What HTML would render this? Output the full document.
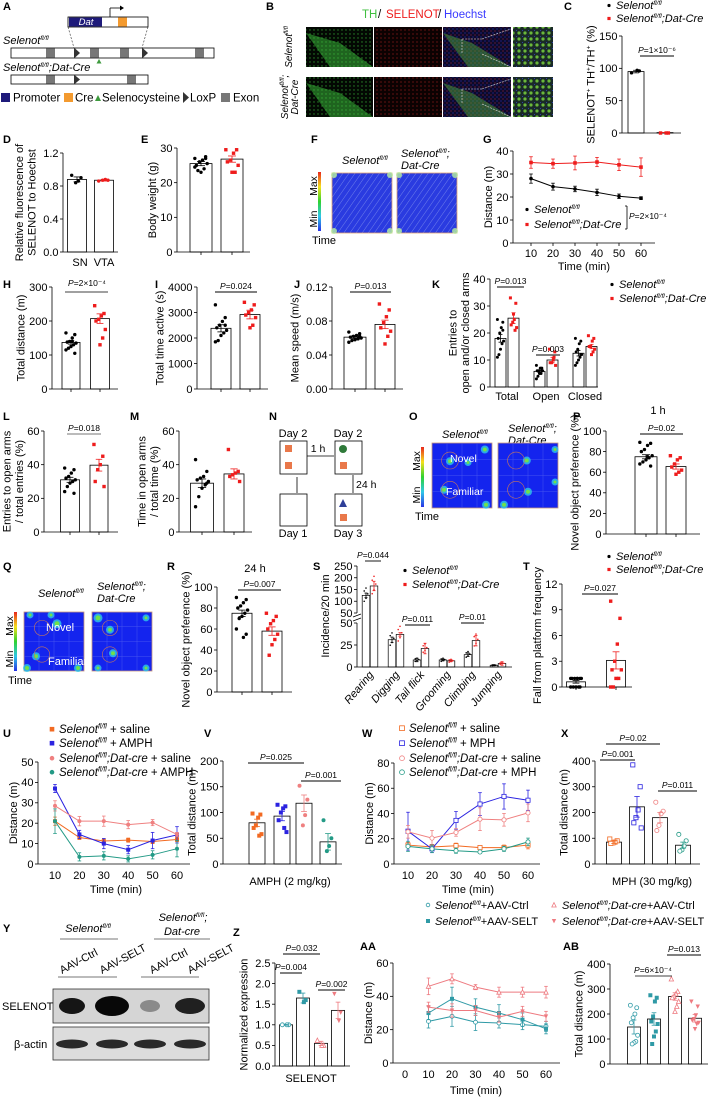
<!DOCTYPE html>
<html><head><meta charset="utf-8"><style>
html,body{margin:0;padding:0;background:#fff;}
svg{display:block;font-family:"Liberation Sans",Arial,sans-serif;}
</style></head><body>
<svg id="fig" width="711" height="1099" viewBox="0 0 711 1099" xmlns="http://www.w3.org/2000/svg">
<defs>
<linearGradient id="cbar" x1="0" y1="0" x2="0" y2="1"><stop offset="0" stop-color="#e8261c"/><stop offset="0.25" stop-color="#f5e11d"/><stop offset="0.5" stop-color="#2fd22f"/><stop offset="0.75" stop-color="#2fc8e8"/><stop offset="1" stop-color="#2833e6"/></linearGradient>
<pattern id="trk" width="5" height="5" patternUnits="userSpaceOnUse" patternTransform="rotate(35)"><rect width="5" height="5" fill="#2a3be0"/><line x1="0" y1="0" x2="0" y2="5" stroke="#8090ee" stroke-width="0.8"/></pattern>
<pattern id="grn" width="4" height="4" patternUnits="userSpaceOnUse"><rect width="4" height="4" fill="#030803"/><circle cx="2" cy="2" r="0.7" fill="#2a8a2a"/></pattern>
<pattern id="red" width="4" height="4" patternUnits="userSpaceOnUse"><rect width="4" height="4" fill="#0c0202"/><circle cx="1" cy="2" r="0.6" fill="#a01c1c"/></pattern>
<pattern id="mrg" width="4" height="4" patternUnits="userSpaceOnUse"><rect width="4" height="4" fill="#0c0a2a"/><circle cx="1" cy="1" r="0.6" fill="#2a2ab0"/><circle cx="3" cy="3" r="0.6" fill="#902040"/></pattern>
<pattern id="zm" width="6" height="6" patternUnits="userSpaceOnUse"><rect width="6" height="6" fill="#1a2a28"/><circle cx="3" cy="3" r="1.6" fill="#6ab83a"/><circle cx="0" cy="0" r="1" fill="#3344cc"/></pattern>
</defs>
</svg>
<script>
// ---------- DATA ----------
const cVals=[95,0.6]; const cErr=[2,0]; const cDots0=[93,96,97]; const cDots1=[0,0,0];
const dVals=[0.88,0.87]; const dErr=[0.03,0.01]; const dDots0=[0.93,0.9,0.86,0.84]; const dDots1=[0.86,0.87,0.88,0.87];
const eVals=[25.5,26.8]; const eErr=[0.6,0.9]; const eDots0=[27,27.5,26.5,26,25,25.5,24,23,23.5,24.5,27]; const eDots1=[29.5,29.5,28.5,26.5,26,25,23,23];
const gTime=[10,20,30,40,50,60]; const gCtrl=[28,24.5,23.5,22,20.3,19.5]; const gCtrlErr=[2,1.5,1.2,1.4,1,0.6]; const gCko=[35,34.5,34.8,35.2,34,33]; const gCkoErr=[2.5,2,3,2,2.5,4];
const hVals=[137,207]; const hErr=[5,14]; const hDots0=[165,160,150,140,138,135,130,125,120,115,105,140]; const hDots1=[245,222,215,205,200,175,150,130];
const iVals=[2380,2920]; const iErr=[140,170]; const iDots0=[3300,2800,2650,2500,2400,2300,2200,2100,1900,1850,2500]; const iDots1=[3400,3300,3100,3000,2900,2800,2500,2400];
const jVals=[0.061,0.076]; const jErr=[0.0015,0.005]; const jDots0=[0.067,0.065,0.063,0.062,0.061,0.06,0.059,0.058,0.057,0.055,0.062]; const jDots1=[0.1,0.093,0.085,0.078,0.072,0.068,0.062,0.053];
const kCats=['Total','Open','Closed']; const kCtrl=[18,5.8,12.5]; const kCtrlErr=[1.4,0.4,1]; const kCko=[25.5,10,15]; const kCkoErr=[2,1,0.8];
const kDotsCtrl=[[25,24,22,20,18,17,16,14,12,11,21],[8,7,7,6,6,6,5,5,4,3,6],[18,17,16,14,13,12,11,10,9,8,12]];
const kDotsCko=[[33,31,25,24,23,22,21,27],[14,13,10,9,9,8,11],[19,18,17,15,15,14,13,12]];
const lVals=[31,39.7]; const lErr=[1.5,3.5]; const lDots0=[38,37,35,33,32,31,30,29,27,24,23]; const lDots1=[52,45,40,37,30,27];
const mVals=[29,34.5]; const mErr=[2.5,3]; const mDots0=[43,36,33,32,31,30,28,26,21,15,29]; const mDots1=[49,36,35,34,33,30];
const pVals=[75,65.5]; const pErr=[2,2.5]; const pDots0=[89,88,86,82,80,76,74,72,70,68,66,75]; const pDots1=[76,74,72,68,65,62,60,58];
const rVals=[75,58]; const rErr=[3,4]; const rDots0=[90,88,85,82,80,78,75,72,70,60,55,52]; const rDots1=[75,72,68,65,60,55,50,45,35];
const sCats=['Rearing','Digging','Tail flick','Grooming','Climbing','Jumping'];
const sCtrl=[125,31,8,8,14,2]; const sCtrlErr=[10,3,2,1,2,0.5]; const sCko=[165,37,21,7,30,4]; const sCkoErr=[20,2,6,1,6,2];
const tVals=[0.6,3.1]; const tErr=[0.15,1]; const tDots0=[1,1,1,1,1,1,0,0,0,0,0,1]; const tDots1=[10,8,5,3,2,2,1,1,0,0];
const uTime=[10,20,30,40,50,60];
const uSal=[21,13,11.3,11.7,11,12]; const uSalErr=[2,1,1,1,1,1];
const uAmph=[37,14.5,10,7,11.5,14.3]; const uAmphErr=[2,2,2.5,2,4,4];
const uCreSal=[28.5,21,21,19.3,20.3,14.5]; const uCreSalErr=[2.5,2.3,2.5,2,1.5,1];
const uCreAmph=[21,3.5,4,2.5,4.5,7.5]; const uCreAmphErr=[6,2,2,1.5,2,4];
const vVals=[80,93,118,43]; const vErr=[7,9,16,16]; const vDots=[[98,96,90,75,70,58,55],[115,112,108,100,85,62,70],[152,125,95,75],[85,50,35,25]];
const wSal=[15,13.5,14.5,13,13,15]; const wSalErr=[2,2,2,1.5,2,3];
const wMph=[26,12,34.5,47.5,53.5,50.5]; const wMphErr=[15,3,7,9,10,8];
const wCreSal=[25.5,20.5,25,35.5,35,40.5]; const wCreSalErr=[5,6,3,9,5,7];
const wCreMph=[14,12,10.5,9.5,12,17.5]; const wCreMphErr=[4,3,2,1,2,3];
const xVals=[85,222,180,73]; const xErr=[5,40,20,12]; const xDots=[[97,90,85,82,80],[385,300,210,180,160,140],[240,205,195,150,130],[115,90,70,55,50]];
const zVals=[1.0,1.65,0.55,1.35]; const zErr=[0.01,0.12,0.05,0.2]; const zDots=[[1,1,1],[1.8,1.6,1.55],[0.62,0.5,0.5],[1.75,1.3,1.1]];
const aaTime=[10,20,30,40,50,60];
const aaCtrl=[25,28,24.5,24,23,22]; const aaCtrlErr=[4,6,5,3,3,3];
const aaSelt=[30,38.5,33.5,30,26,20.5]; const aaSeltErr=[4,7,5,5,4,3];
const aaCreCtrl=[46,50.5,45.5,42.5,42.5,42.5]; const aaCreCtrlErr=[5,3,1.5,3,3,3.5];
const aaCreSelt=[33.5,31.5,31.5,27.5,31,28]; const aaCreSeltErr=[3,4,3,3,3,3];
const abVals=[148,180,270,183]; const abErr=[28,25,15,15];
const abDots=[[235,225,200,185,165,115,90,85,80],[275,265,250,190,170,160,130,110,80],[340,290,280,270,265,250,230,210],[250,230,195,180,175,165,160,140]];

// ---------- HELPERS ----------
const NS='http://www.w3.org/2000/svg';
const svg=document.getElementById('fig');
const RED='#ee1c1c', ORG='#f26a22', BLU='#2b23e0', PNK='#ef8080', TEA='#239a86', AT='#2f9aa6', AP='#ee7a80';
const FS=11;
function mk(tag,attrs,parent){const e=document.createElementNS(NS,tag);for(const k in attrs)e.setAttribute(k,attrs[k]);(parent||svg).appendChild(e);return e;}
function T(x,y,s,nm,o){o=o||{};const t=mk('text',{x:x,y:y,'font-size':o.fs||FS,'text-anchor':o.a||'start',fill:o.fill||'#000'});
  if(o.it)t.setAttribute('font-style','italic');
  if(o.b)t.setAttribute('font-weight','bold');
  if(o.rot!==undefined)t.setAttribute('transform','rotate('+o.rot+' '+x+' '+y+')');
  t.textContent=s;
  
  
  return t;}
function R(x,y,parts,nm,o){o=o||{};const fs=o.fs||FS;const t=mk('text',{x:x,y:y,'font-size':fs,'text-anchor':o.a||'start',fill:o.fill||'#000'});
  if(o.rot!==undefined)t.setAttribute('transform','rotate('+o.rot+' '+x+' '+y+')');
  
  
  let sup=false;
  parts.forEach(p=>{const s=mk('tspan',{},t);
    
    
    if(p[1].indexOf('i')>=0)s.setAttribute('font-style','italic');
    if(p[1].indexOf('s')>=0){s.setAttribute('font-size',fs*0.6);if(!sup)s.setAttribute('dy',-fs*0.38);sup=true;}
    else if(sup){s.setAttribute('dy',fs*0.38);sup=false;}
    s.textContent=p[0];});
  return t;}
function SEL(rest){return [['Selenot','i'],['fl/fl','is']].concat(rest||[]);}
function L(x1,y1,x2,y2,nm,c,w,dash){const l=mk('line',{x1:x1,y1:y1,x2:x2,y2:y2,stroke:c||'#000','stroke-width':w||0.8});
  if(dash)l.setAttribute('stroke-dasharray',dash);
  
  
  return l;}
function panel(s,x,y){T(x,y,s,'panel-label-'+s.toLowerCase(),{b:true,fs:11});}
function yAxis(ax,y0,yTop,ticks,labels,title,nm,tdx){
  const vmin=ticks[0],vmax=ticks[ticks.length-1];
  const sc=v=>y0-(v-vmin)/(vmax-vmin)*(y0-yTop);
  L(ax,y0,ax,yTop,nm+'-y-axis');
  let mx=0;
  ticks.forEach((v,i)=>{L(ax-3,sc(v),ax,sc(v),nm+'-y-tick');
    T(ax-4.5,sc(v)+3.8,labels[i],nm+'-y-tick-label',{a:'end',fs:11});
    mx=Math.max(mx,labels[i].length);});
  const tx=ax-9-mx*6.1-(tdx||0);
  const cy=(y0+yTop)/2;
  title.forEach((line,i)=>{const xx=tx-(title.length-1-i)*12.5;
    if(typeof line==='string')T(xx,cy,line,nm+'-y-axis-title',{a:'middle',rot:-90,fs:11});
    else R(xx,cy,line,nm+'-y-axis-title',{a:'middle',rot:-90,fs:11});});
  return sc;}
function xBase(x1,x2,y0,tickXs,nm){L(x1,y0,x2,y0,nm+'-x-axis');tickXs.forEach(x=>L(x,y0,x,y0+3,nm+'-x-tick'));}
function marker(x,y,shape,col,open,sz,nm){let e;sz=sz||1.7;
  if(shape==='s')e=mk('rect',{x:x-sz,y:y-sz,width:2*sz,height:2*sz});
  else if(shape==='t')e=mk('polygon',{points:(x)+','+(y-sz*1.2)+' '+(x-sz*1.1)+','+(y+sz)+' '+(x+sz*1.1)+','+(y+sz)});
  else if(shape==='v')e=mk('polygon',{points:(x)+','+(y+sz*1.2)+' '+(x-sz*1.1)+','+(y-sz)+' '+(x+sz*1.1)+','+(y-sz)});
  else e=mk('circle',{cx:x,cy:y,r:sz});
  if(open){e.setAttribute('fill','#fff');e.setAttribute('stroke',col);e.setAttribute('stroke-width',0.8);}
  else e.setAttribute('fill',col);
  
  
  return e;}
function errBar(x,y1,y2,cw,col,nm){L(x,y1,x,y2,nm,col,0.8);L(x-cw,y1,x+cw,y1,nm+'-cap',col,0.8);L(x-cw,y2,x+cw,y2,nm+'-cap',col,0.8);}
function bar(sc,c,w,v,e,dots,col,shape,open,nm,sz){
  const y0=sc(0);
  const r=mk('rect',{x:c-w/2,y:sc(v),width:w,height:y0-sc(v),fill:'none',stroke:'#000','stroke-width':0.8});
  
  
  (dots||[]).forEach((d,j)=>{const off=(((j*7)%9)-4)/4*w*0.28;marker(c+off,sc(d),shape,col,open,sz,nm+'-dot');});
  errBar(c,sc(v+e),sc(v-e),w*0.18,col,nm+'-error');}
function series(xs,ys,ts,vals,errs,col,shape,open,nm,sz){
  const d=ts.map((t,i)=>(i?'L':'M')+xs(t)+' '+ys(vals[i])).join(' ');
  const p=mk('path',{d:d,fill:'none',stroke:col,'stroke-width':1});
  
  
  ts.forEach((t,i)=>{errBar(xs(t),ys(vals[i]+errs[i]),ys(Math.max(0,vals[i]-errs[i])),1.8,col,nm+'-error');
    marker(xs(t),ys(vals[i]),shape,col,open,sz||2,nm+'-point');});}
function pval(x1,x2,y,txt,nm,col){L(x1,y,x2,y,nm+'-line',col||'#000',0.9);
  R((x1+x2)/2,y-3,[['P','i'],[txt,'']],nm,{a:'middle',fs:8.5});}
function heat(x,y,w,h,nm,spots){const g=mk('g',{});
  
  
  mk('rect',{x:x,y:y,width:w,height:h,fill:'#1424ee',stroke:'#c9967a','stroke-width':0.8},g);
  for(let i=1;i<4;i++){mk('line',{x1:x+w*i/4,y1:y,x2:x+w*i/4,y2:y+h,stroke:'#5060f0','stroke-width':0.4},g);mk('line',{x1:x,y1:y+h*i/4,x2:x+w,y2:y+h*i/4,stroke:'#5060f0','stroke-width':0.4},g);}
  spots.forEach(s=>{mk('circle',{cx:x+s[0]*w,cy:y+s[1]*h,r:s[2]+2,fill:'#30c8e8',opacity:0.8},g);mk('circle',{cx:x+s[0]*w,cy:y+s[1]*h,r:s[2],fill:'#6ee24a'},g);});
  mk('circle',{cx:x+w*0.3,cy:y+h*0.27,r:h*0.13,fill:'none',stroke:'#c8785a','stroke-width':0.6},g);
  mk('circle',{cx:x+w*0.3,cy:y+h*0.72,r:h*0.13,fill:'none',stroke:'#c8785a','stroke-width':0.6},g);
  return g;}
function cbar(x,y,h,nm){const r=mk('rect',{x:x,y:y,width:3,height:h,fill:'url(#cbar)'});
  
  
  T(x-1,y+14,'Max',nm+'-max',{rot:-90,a:'middle',fs:10.5});
  T(x-1,y+h-12,'Min',nm+'-min',{rot:-90,a:'middle',fs:10.5});
  T(x-6,y+h+13,'Time',nm+'-time',{fs:11});}
function rectN(x,y,w,h,fill,nm,stroke){const r=mk('rect',{x:x,y:y,width:w,height:h,fill:fill});
  if(stroke){r.setAttribute('stroke',stroke);r.setAttribute('stroke-width',0.8);}
  
  
  return r;}
function legend2(x,y1,y2,nm){marker(x,y1-3.5,'c','#000',false,1.6,nm+'-marker-ctrl');R(x+7,y1,SEL(),nm+'-ctrl',{fs:11});
  marker(x,y2-3.5,'s',RED,false,1.6,nm+'-marker-cko');R(x+7,y2,SEL([[';Dat-Cre','i']]),nm+'-cko',{fs:11});}

// ---------- A ----------
panel('A',3,10);
rectN(68,17,80,10,'#fff','dat-construct','#000');
rectN(69,17.5,33,9,'#1e1a7a','dat-promoter');
T(86,25,'Dat','dat-label',{it:true,a:'middle',fill:'#fff',fs:9.5});
rectN(118,17.5,9,9,'#f39a2f','cre-box');
L(110,17,110,8,'tss-arrow');L(110,8,120,8,'tss-arrow');
mk('polygon',{points:'120,5.5 124,8 120,10.5',fill:'#000'});
R(3,44,SEL(),'selenot-flfl-label',{fs:11});
rectN(11,48,203,10,'#fff','selenot-flfl-allele','#000');
[46,90,120,195].forEach(x=>rectN(x,48.5,9,9,'#777','exon'));
[74,142].forEach(x=>mk('polygon',{points:x+',47.5 '+(x+6)+',53 '+x+',58.5',fill:'#333'}));
L(68,27,74,48,'dashed-link','#333',0.6,'2,1.5');L(148,27,142,48,'dashed-link','#333',0.6,'2,1.5');
mk('polygon',{points:'99,59 101.5,63.5 96.5,63.5',fill:'#3e9a3e'});
R(3,71,SEL([[';Dat-Cre','i']]),'selenot-cko-label',{fs:11});
rectN(11,75,137,9,'#fff','selenot-cko-allele','#000');
[46,127].forEach(x=>rectN(x,75.5,9,8,'#777','exon'));
mk('polygon',{points:'74,74.5 80,79.5 74,84.5',fill:'#333'});
rectN(1,93,9,9,'#1e1a7a','legend-promoter');T(13,101.5,'Promoter','legend-promoter-text',{fs:11.5});
rectN(64,93,9,9,'#f39a2f','legend-cre');T(75,101.5,'Cre','legend-cre-text',{fs:11.5});
mk('polygon',{points:'98,95 101,101 95,101',fill:'#3e9a3e'});T(102,101.5,'Selenocysteine','legend-sec-text',{fs:11.5});
mk('polygon',{points:'183,92 189,97.5 183,103',fill:'#333'});T(190,101.5,'LoxP','legend-loxp-text',{fs:11.5});
rectN(221,93,9,9,'#777','legend-exon');T(233,101.5,'Exon','legend-exon-text',{fs:11.5});

// ---------- B ----------
panel('B',266,10);
T(362,18,'TH','b-title-th',{fs:11.5,fill:'#3fbf3f'});
T(378,18,'/','b-title-sep1',{fs:11.5});
T(386,18,'SELENOT','b-title-selenot',{fs:11.5,fill:RED});
T(438,18,'/','b-title-sep2',{fs:11.5});
T(444,18,'Hoechst','b-title-hoechst',{fs:11.5,fill:'#3a3aff'});
[27,77].forEach((y,ri)=>{
  rectN(306,y,67,40,'url(#grn)','th-image');
  mk('polygon',{points:'306,'+(y+6)+' 340,'+(y+16)+' 373,'+(y+40)+' 330,'+(y+40),fill:'#3cc03c',opacity:0.5});
  rectN(374,y,68,40,'url(#red)','selenot-image');
  rectN(443,y,68,40,'url(#mrg)','merge-image');
  mk('polygon',{points:'443,'+(y+6)+' 472,'+(y+16)+' 511,'+(y+40)+' 468,'+(y+40),fill:'#4aa03a',opacity:0.5});
  rectN(513,y,40,40,'url(#zm)','zoom-image');
  L(462,y+12,482,y+12,'inset-box','#ddd',0.6,'2,1');L(462,y+12,462,y+27,'inset-box','#ddd',0.6,'2,1');L(482,y+12,511,y+2,'inset-box','#ddd',0.6,'2,1');L(482,y+27,511,y+40,'inset-box','#ddd',0.6,'2,1');
});
R(292,47,SEL(),'b-row1-label',{rot:-90,a:'middle',fs:10});
R(288,97,[['Selenot','i'],['fl/fl','is'],[';','i']],'b-row2-label',{rot:-90,a:'middle',fs:10});
T(298,97,'Dat-Cre','b-row2-label2',{rot:-90,a:'middle',fs:10,it:true});

// ---------- C ----------
panel('C',564,10);
legend2(609,9,22,'c-legend');
const cY=yAxis(622,133,36,[0,50,100,150],['0','50','100','150'],[[['SELENOT',''],['+','s'],[' TH',''],['+','s'],['/TH',''],['+','s'],[' (%)','']]],'c');
xBase(622,681,133,[]);
bar(cY,636,16,cVals[0],cErr[0],cDots0,'#000','c',false,'c-bar-ctrl');
bar(cY,665,16,cVals[1],cErr[1],cDots1,RED,'s',false,'c-bar-cko');
pval(640,674,56,'=1×10⁻⁶','c-pvalue');

// ---------- D ----------
panel('D',3,143);
const dY=yAxis(63,252,153,[0,0.4,0.8,1.2],['0.0','0.4','0.8','1.2'],['Relative fluorescence of','SELENOT to Hoechst'],'d');
xBase(63,118,252,[]);
bar(dY,77,19,dVals[0],dErr[0],dDots0,'#000','c',false,'d-bar-sn');
bar(dY,104,19,dVals[1],dErr[1],dDots1,RED,'c',false,'d-bar-vta');
T(80,266,'SN','d-x-sn',{a:'middle'});T(104,266,'VTA','d-x-vta',{a:'middle'});

// ---------- E ----------
panel('E',141,143);
const eY=yAxis(177,252,148,[0,10,20,30],['0','10','20','30'],['Body weight (g)'],'e');
xBase(177,250,252,[201,232]);
bar(eY,201,22,eVals[0],eErr[0],eDots0,'#000','c',false,'e-bar-ctrl');
bar(eY,232,22,eVals[1],eErr[1],eDots1,RED,'s',false,'e-bar-cko');

// ---------- F ----------
panel('F',311,143);
cbar(318,172,59,'f-colorbar');
R(342,164,SEL(),'f-label-ctrl',{fs:11});
R(401,157,SEL([[';','i']]),'f-label-cko',{fs:11});T(401,169,'Dat-Cre','f-label-cko2',{it:true,fs:11});
[[332,'f-heatmap-ctrl'],[397,'f-heatmap-cko']].forEach(h=>{const r=rectN(h[0],173,60,60,'url(#trk)',h[1],'#e0a070');
  [[2,2],[58,2],[2,58],[58,58]].forEach(p=>mk('circle',{cx:h[0]+p[0],cy:173+p[1],r:3,fill:'#b8f0a0',opacity:0.8}));});

// ---------- G ----------
panel('G',483,143);
const gY=yAxis(513,243,151,[0,10,20,30,40],['0','10','20','30','40'],['Distance (m)'],'g');
const gX=t=>531+(t-10)/50*110;
xBase(513,655,243,gTime.map(gX));
gTime.forEach(t=>T(gX(t),257,String(t),'g-x-tick-label',{a:'middle'}));
T(584,270,'Time (min)','g-x-axis-title',{a:'middle'});
series(gX,gY,gTime,gCtrl,gCtrlErr,'#000','c',false,'g-series-ctrl',1.8);
series(gX,gY,gTime,gCko,gCkoErr,RED,'s',false,'g-series-cko',1.8);
legend2(527,213,228,'g-legend');
L(625,206,627,206,'g-bracket');L(627,206,627,229,'g-bracket');L(625,229,627,229,'g-bracket');
R(629,219,[['P','i'],['=2×10⁻⁴','']],'g-pvalue',{fs:8.5});

// ---------- H ----------
panel('H',3,288);
const hY=yAxis(52,389,287,[0,100,200,300],['0','100','200','300'],['Total distance (m)'],'h');
xBase(52,118,389,[71,100]);
bar(hY,71,18,hVals[0],hErr[0],hDots0,'#000','c',false,'h-bar-ctrl');
bar(hY,100,19,hVals[1],hErr[1],hDots1,RED,'s',false,'h-bar-cko');
R(87,286,[['P','i'],['=2×10⁻⁴','']],'h-pvalue',{a:'middle',fs:8.5});L(65,292,108,292,'h-pvalue-line');

// ---------- I ----------
panel('I',155,288);
const iY=yAxis(197,389,287,[0,1000,2000,3000,4000],['0','1000','2000','3000','4000'],['Total time active (s)'],'i');
xBase(197,268,389,[221,250]);
bar(iY,221,20,iVals[0],iErr[0],iDots0,'#000','c',false,'i-bar-ctrl');
bar(iY,250,20,iVals[1],iErr[1],iDots1,RED,'s',false,'i-bar-cko');
pval(215,257,292,'=0.024','i-pvalue');

// ---------- J ----------
panel('J',294,288);
const jY=yAxis(332,389,287,[0,0.04,0.08,0.12],['0.00','0.04','0.08','0.12'],['Mean speed (m/s)'],'j');
xBase(332,403,389,[355,385]);
bar(jY,355,22,jVals[0],jErr[0],jDots0,'#000','c',false,'j-bar-ctrl');
bar(jY,385,20,jVals[1],jErr[1],jDots1,RED,'s',false,'j-bar-cko');
pval(350,391,292,'=0.013','j-pvalue');

// ---------- K ----------
panel('K',432,288);
const kY=yAxis(490,387,279,[0,10,20,30,40],['0','10','20','30','40'],['Entries to','open and/or closed arms'],'k');
xBase(490,598,387,[]);
const kCenters=[507,546,585];
kCats.forEach((c,i)=>{bar(kY,kCenters[i]-6.5,11,kCtrl[i],kCtrlErr[i],kDotsCtrl[i],'#000','c',false,'k-bar-ctrl-'+c.toLowerCase(),1.5);
  bar(kY,kCenters[i]+6.5,11,kCko[i],kCkoErr[i],kDotsCko[i],RED,'s',false,'k-bar-cko-'+c.toLowerCase(),1.5);
  T(kCenters[i],400,c,'k-x-label',{a:'middle'});});
pval(497,524,287,'=0.013','k-pvalue-total');
pval(536,560,355,'=0.003','k-pvalue-open');
legend2(612,288,302,'k-legend');

// ---------- L ----------
panel('L',3,420);
const lY=yAxis(44,532,431,[0,20,40,60],['0','20','40','60'],['Entries to open arms','/ total entries (%)'],'l');
xBase(44,118,532,[70,99]);
bar(lY,70,19,lVals[0],lErr[0],lDots0,'#000','c',false,'l-bar-ctrl');
bar(lY,99,18,lVals[1],lErr[1],lDots1,RED,'s',false,'l-bar-cko');
pval(67,101,434,'=0.018','l-pvalue','#777');

// ---------- M ----------
panel('M',130,420);
const mY=yAxis(179,532,431,[0,20,40,60],['0','20','40','60'],['Time in open arms','/ total time (%)'],'m');
xBase(179,252,532,[202,234]);
bar(mY,202,23,mVals[0],mErr[0],mDots0,'#000','c',false,'m-bar-ctrl');
bar(mY,234,20,mVals[1],mErr[1],mDots1,RED,'s',false,'m-bar-cko');

// ---------- N ----------
panel('N',269,420);
T(293,437,'Day 2','n-day2a',{a:'middle'});T(348,437,'Day 2','n-day2b',{a:'middle'});
rectN(280,441,27,33,'#fff','n-box-day2a','#000');rectN(335,441,27,33,'#fff','n-box-day2b','#000');
rectN(280,494,27,32,'#fff','n-box-day1','#000');rectN(335,494,27,32,'#fff','n-box-day3','#000');
rectN(285,445,7,7,'#e9784a','n-object');rectN(285,462,7,7,'#e9784a','n-object');
mk('circle',{cx:343,cy:449,r:4,fill:'#2f7a3a'});rectN(340,462,7,7,'#e9784a','n-object');
mk('polygon',{points:'343,499 347,507 339,507',fill:'#2e3f98'});rectN(340,514,7,7,'#e9784a','n-object');
L(307,456,334,456,'n-arrow-1h');T(318,452,'1 h','n-1h',{a:'middle',fs:10.5});
L(353,475,353,493,'n-arrow-24h');T(356,488,'24 h','n-24h',{fs:10.5});
L(297,493,297,477,'n-arrow-up');
T(293,537,'Day 1','n-day1',{a:'middle'});T(348,537,'Day 3','n-day3',{a:'middle'});

// ---------- O ----------
panel('O',409,420);
cbar(421,447,60,'o-colorbar');
R(442,438,SEL(),'o-label-ctrl',{fs:11});
R(508,432,SEL([[';','i']]),'o-label-cko',{fs:11});T(508,444,'Dat-Cre','o-label-cko2',{it:true,fs:11});
heat(432,443,60,65,'o-heatmap-ctrl',[[0.3,0.28,2],[0.88,0.1,2],[0.2,0.72,2],[0.6,0.3,1.5],[0.9,0.95,2]]);
T(450,462,'Novel','o-novel',{fs:10.5,fill:'#fff'});T(446,495,'Familiar','o-familiar',{fs:10.5,fill:'#fff'});
heat(498,443,60,65,'o-heatmap-cko',[[0.48,0.27,2],[0.5,0.75,2],[0.95,0.1,1.5],[0.1,0.95,2],[0.95,0.6,1.5]]);

// ---------- P ----------
panel('P',573,420);
T(658,414,'1 h','p-title',{a:'middle'});
const pY=yAxis(606,534,431,[0,20,40,60,80,100],['0','20','40','60','80','100'],['Novel object preference (%)'],'p');
xBase(606,700,534,[646,676]);
bar(pY,646,22,pVals[0],pErr[0],pDots0,'#000','c',false,'p-bar-ctrl');
bar(pY,676,20,pVals[1],pErr[1],pDots1,RED,'s',false,'p-bar-cko');
pval(640,683,434,'=0.02','p-pvalue');

// ---------- Q ----------
panel('Q',3,570);
cbar(14,612,59,'q-colorbar');
R(38,597,SEL(),'q-label-ctrl',{fs:11});
R(97,590,SEL([[';','i']]),'q-label-cko',{fs:11});T(97,602,'Dat-Cre','q-label-cko2',{it:true,fs:11});
heat(24,612,60,59,'q-heatmap-ctrl',[[0.55,0.2,2.5],[0.1,0.05,1.5],[0.45,0.05,1.5],[0.2,0.75,2],[0.05,0.95,2],[0.9,0.95,2]]);
T(46,631,'Novel','q-novel',{fs:11,fill:'#fff'});T(48,665,'Familiar','q-familiar',{fs:11,fill:'#fff'});
heat(92,612,60,59,'q-heatmap-cko',[[0.1,0.1,2.5],[0.3,0.3,2],[0.35,0.7,2],[0.9,0.1,1.5],[0.1,0.95,1.5],[0.9,0.95,1.5]]);

// ---------- R ----------
panel('R',167,570);
T(255,572,'24 h','r-title',{a:'middle'});
const rY=yAxis(217,692,587,[0,20,40,60,80,100],['0','20','40','60','80','100'],['Novel object preference (%)'],'r');
xBase(217,292,692,[242,272]);
bar(rY,242,20,rVals[0],rErr[0],rDots0,'#000','c',false,'r-bar-ctrl');
bar(rY,272,20,rVals[1],rErr[1],rDots1,RED,'s',false,'r-bar-cko');
pval(238,281,590,'=0.007','r-pvalue');

// ---------- S ----------
panel('S',313,570);
const sTopY=v=>613-(v-50)/200*47;
L(357,566,357,613,'s-y-axis-top');
[50,100,150,200,250].forEach(v=>{L(354,sTopY(v),357,sTopY(v),'s-y-tick');T(352.5,sTopY(v)+3.8,String(v),'s-y-tick-label',{a:'end'});});
L(357,623,357,667,'s-y-axis');
[0,25,50].forEach(v=>{const y=667-v/50*44;L(354,y,357,y,'s-y-tick');T(352.5,y+3.8,String(v),'s-y-tick-label',{a:'end'});});
const sY=v=>667-v/50*44;
T(329,616,'Incidence/20 min','s-y-axis-title',{a:'middle',rot:-90});
L(353,617,361,614,'s-axis-break');L(353,621,361,618,'s-axis-break');
xBase(357,512,667,[]);
const sCenters=[370,396,421,447,472,498];
sCats.forEach((c,i)=>{
  const scl=i===0?(v=>v<=50?sY(v):sTopY(v)):sY;
  [[sCtrl[i],sCtrlErr[i],'#000','ctrl',-4],[sCko[i],sCkoErr[i],RED,'cko',4]].forEach(s=>{
    const cx=sCenters[i]+s[4];
    const rr=mk('rect',{x:cx-3.8,y:scl(s[0]),width:7.6,height:667-scl(s[0]),fill:'none',stroke:'#000','stroke-width':0.7});
    
    
    errBar(cx,scl(s[0]+s[1]),scl(s[0]-s[1]),1.5,s[2],'s-error');
    [0.8,0.9,1.05,1.15,1.25].forEach((f,j)=>marker(cx+((j%3)-1)*1.8,scl(s[0]*f),'c',s[2],false,0.8,'s-dot'));});
  T(sCenters[i]+4,675,c,'s-x-label',{a:'end',rot:-50,fs:11,it:true});});
pval(365,381,561,'=0.044','s-pvalue-rearing');
pval(405,430,625,'=0.011','s-pvalue-tail');
pval(461,484,623,'=0.01','s-pvalue-climbing');
legend2(405,574,588,'s-legend');

// ---------- T ----------
panel('T',523,570);
legend2(609,560,573,'t-legend');
const tY=yAxis(562,687,584,[0,3,6,9,12],['0','3','6','9','12'],['Fall from platform frequency'],'t');
xBase(562,632,687,[576,616]);
bar(tY,576,19,tVals[0],tErr[0],tDots0,'#000','c',false,'t-bar-ctrl');
bar(tY,616,19,tVals[1],tErr[1],tDots1,RED,'s',false,'t-bar-cko');
pval(582,618,594,'=0.027','t-pvalue');

// ---------- U ----------
panel('U',3,737);
const uLeg=[[uSal,ORG,'s',false,' + saline',''],[uAmph,BLU,'s',false,' + AMPH',''],[uCreSal,PNK,'c',false,' + saline',';Dat-cre'],[uCreAmph,TEA,'c',false,' + AMPH',';Dat-cre']];
[733,747,762,776].forEach((y,i)=>{marker(52,y-3.8,uLeg[i][2],uLeg[i][1],false,2.3,'u-legend-marker');
  R(59,y,SEL((uLeg[i][5]?[[uLeg[i][5],'i']]:[]).concat([[uLeg[i][4],'']])),'u-legend-entry',{fs:11.5});});
const uY=yAxis(38,864,762,[0,10,20,30,40,50],['0','10','20','30','40','50'],['Distance (m)'],'u');
const uX=t=>55+(t-10)/50*122;
xBase(38,190,864,[]);
uTime.forEach(t=>T(uX(t),879,String(t),'u-x-tick-label',{a:'middle'}));
T(116,893,'Time (min)','u-x-axis-title',{a:'middle'});
series(uX,uY,uTime,uSal,uSalErr,ORG,'s',false,'u-saline',2);
series(uX,uY,uTime,uAmph,uAmphErr,BLU,'s',false,'u-amph',2);
series(uX,uY,uTime,uCreSal,uCreSalErr,PNK,'c',false,'u-cre-saline',2);
series(uX,uY,uTime,uCreAmph,uCreAmphErr,TEA,'c',false,'u-cre-amph',2);

// ---------- V ----------
panel('V',204,737);
const vY=yAxis(223,864,761,[0,50,100,150,200],['0','50','100','150','200'],['Total distance (m)'],'v');
xBase(223,342,864,[]);
const vCols=[ORG,BLU,PNK,TEA], vShp=['s','s','c','c'], vCent=[257,282,304,328];
vVals.forEach((v,i)=>bar(vY,vCent[i],16,v,vErr[i],vDots[i],vCols[i],vShp[i],false,'v-bar-'+i,2));
T(290,885,'AMPH (2 mg/kg)','v-x-title',{a:'middle'});
pval(248,304,763,'=0.025','v-pvalue-1');
pval(301,341,781,'=0.001','v-pvalue-2');

// ---------- W ----------
panel('W',362,737);
const wLeg=[[ORG,'s',' + saline',''],[BLU,'s',' + MPH',''],[PNK,'c',' + saline',';Dat-cre'],[TEA,'c',' + MPH',';Dat-cre']];
[732,747,762,776].forEach((y,i)=>{marker(402,y-3.8,wLeg[i][1],wLeg[i][0],true,2.4,'w-legend-marker');
  R(409,y,SEL((wLeg[i][3]?[[wLeg[i][3],'i']]:[]).concat([[wLeg[i][2],'']])),'w-legend-entry',{fs:11.5});});
const wY=yAxis(394,864,763,[0,20,40,60,80],['0','20','40','60','80'],['Distance (m)'],'w');
const wX=t=>408+(t-10)/50*120;
xBase(394,540,864,[]);
uTime.forEach(t=>T(wX(t),879,String(t),'w-x-tick-label',{a:'middle'}));
T(468,893,'Time (min)','w-x-axis-title',{a:'middle'});
series(wX,wY,uTime,wSal,wSalErr,ORG,'s',true,'w-saline',2.1);
series(wX,wY,uTime,wMph,wMphErr,BLU,'s',true,'w-mph',2.1);
series(wX,wY,uTime,wCreSal,wCreSalErr,PNK,'c',true,'w-cre-saline',2.1);
series(wX,wY,uTime,wCreMph,wCreMphErr,TEA,'c',true,'w-cre-mph',2.1);

// ---------- X ----------
panel('X',561,737);
const xY=yAxis(595,864,761,[0,100,200,300,400],['0','100','200','300','400'],['Total distance (m)'],'x');
xBase(595,700,864,[]);
const xCent=[614,637,660,683];
xVals.forEach((v,i)=>bar(xY,xCent[i],15,v,xErr[i],xDots[i],vCols[i],vShp[i],true,'x-bar-'+i,2.1));
T(652,885,'MPH (30 mg/kg)','x-x-title',{a:'middle'});
pval(606,660,744,'=0.02','x-pvalue-1');
pval(600,635,760,'=0.001','x-pvalue-2');
pval(658,697,791,'=0.011','x-pvalue-3');

// ---------- AAV legend ----------
marker(428,905,'c',AT,true,1.8,'aav-legend-marker');R(435,909,SEL([['+AAV-Ctrl','']]),'aav-legend-ctrl',{fs:11});
marker(428,921,'s',AT,false,2,'aav-legend-marker');R(435,925,SEL([['+AAV-SELT','']]),'aav-legend-selt',{fs:11});
marker(554,905,'t',AP,true,2,'aav-legend-marker');R(562,909,SEL([[';Dat-cre','i'],['+AAV-Ctrl','']]),'aav-legend-cre-ctrl',{fs:11});
marker(554,921,'v',AP,false,2,'aav-legend-marker');R(562,925,SEL([[';Dat-cre','i'],['+AAV-SELT','']]),'aav-legend-cre-selt',{fs:11});

// ---------- Y ----------
panel('Y',3,932);
R(88,932,SEL(),'y-group-ctrl',{a:'middle',fs:11});L(60,939,118,939,'y-group-line','#777',1);
R(183,921,SEL([[';','i']]),'y-group-cko',{a:'middle',fs:11});T(182,935,'Dat-cre','y-group-cko2',{a:'middle',it:true,fs:11});L(154,939,210,939,'y-group-line','#777',1);
[[72,'AAV-Ctrl'],[112,'AAV-SELT'],[162,'AAV-Ctrl'],[200,'AAV-SELT']].forEach(p=>T(p[0]-10,974,p[1],'y-lane-label',{rot:-28,fs:11}));
L(58,977,117,977,'y-lane-line','#777',1);L(141,977,199,977,'y-lane-line','#777',1);
rectN(53,989,156,34,'#d5d5d5','blot-selenot','#333');
[[72,13,8,'#151515'],[112,17,10,'#080808'],[150,10,6,'#8a8a8a'],[190,15,8,'#202020']].forEach(b=>{const e=mk('ellipse',{cx:b[0],cy:1006,rx:b[1],ry:b[2],fill:b[3]});});
rectN(53,1027,156,33,'#dcdcdc','blot-actin','#333');
[72,112,150,190].forEach(x=>{const e=mk('ellipse',{cx:x,cy:1044,rx:16,ry:4.5,fill:'#2a2a2a'});});
T(2,1010,'SELENOT','blot-label-selenot',{fs:11});T(14,1048,'β-actin','blot-label-actin',{fs:11});

// ---------- Z ----------
panel('Z',233,936);
const zY=yAxis(275,1066,963,[0,0.5,1,1.5,2,2.5],['0.0','0.5','1.0','1.5','2.0','2.5'],['Normalized expression'],'z');
xBase(275,350,1066,[]);
const zCent=[286,303,321,338], zShp=['c','s','t','v'], zCol=[AT,AT,AP,AP], zOpen=[true,false,true,false];
zVals.forEach((v,i)=>bar(zY,zCent[i],13,v,zErr[i],zDots[i],zCol[i],zShp[i],zOpen[i],'z-bar-'+i,2));
T(311,1082,'SELENOT','z-x-title',{a:'middle'});
pval(283,320,954,'=0.032','z-pvalue-1');
pval(280,302,973,'=0.004','z-pvalue-2');
pval(318,345,990,'=0.002','z-pvalue-3');

// ---------- AA ----------
panel('AA',360,950);
const aaY=yAxis(393,1063,963,[0,20,40,60],['0','20','40','60'],['Distance (m)'],'aa');
const aaX=t=>405+t/60*141;
xBase(393,560,1063,[]);
[0,10,20,30,40,50,60].forEach(t=>T(aaX(t),1078,String(t),'aa-x-tick-label',{a:'middle'}));
T(476,1094,'Time (min)','aa-x-axis-title',{a:'middle'});
series(aaX,aaY,aaTime,aaCtrl,aaCtrlErr,AT,'c',true,'aa-ctrl',2);
series(aaX,aaY,aaTime,aaSelt,aaSeltErr,AT,'s',false,'aa-selt',2);
series(aaX,aaY,aaTime,aaCreCtrl,aaCreCtrlErr,AP,'t',true,'aa-cre-ctrl',2);
series(aaX,aaY,aaTime,aaCreSelt,aaCreSeltErr,AP,'v',false,'aa-cre-selt',2);

// ---------- AB ----------
panel('AB',563,950);
const abY=yAxis(610,1064,964,[0,100,200,300,400],['0','100','200','300','400'],['Total distance (m)'],'ab');
xBase(610,708,1064,[]);
const abCent=[634,654,675,695];
abVals.forEach((v,i)=>bar(abY,abCent[i],13,v,abErr[i],abDots[i],zCol[i],zShp[i],zOpen[i],'ab-bar-'+i,2));
R(653,973,[['P','i'],['=6×10⁻⁴','']],'ab-pvalue-1',{a:'middle',fs:8.5});L(635,976,672,976,'ab-pvalue-1-line');
pval(667,701,955,'=0.013','ab-pvalue-2');
</script>
</body></html>
